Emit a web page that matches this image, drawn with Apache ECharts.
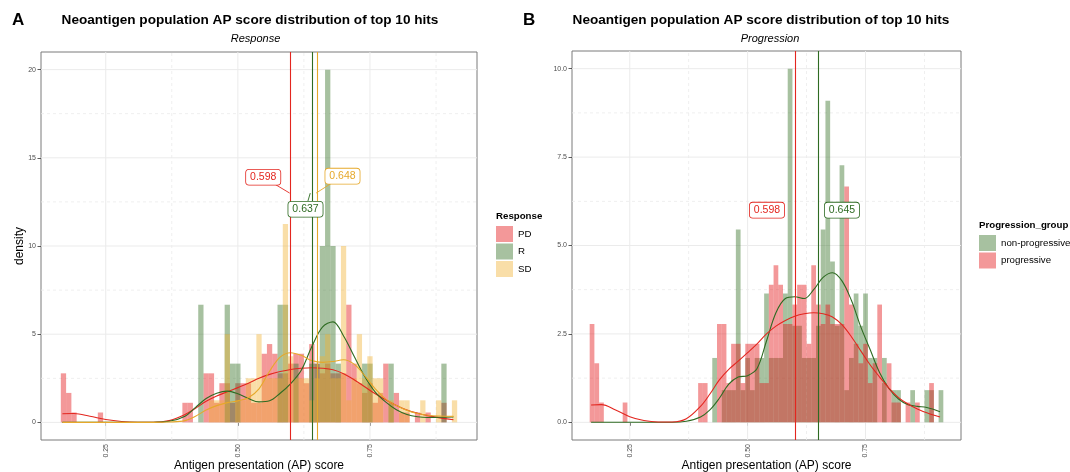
<!DOCTYPE html>
<html>
<head>
<meta charset="utf-8">
<script src="https://cdn.jsdelivr.net/npm/echarts@6/dist/echarts.min.js"></script>
<style>
html,body{margin:0;padding:0;background:#fff;}
#chart{width:1070px;height:472px;}
</style>
</head>
<body>
<div id="chart"></div>
<script>
// histogram bins: left edges, width 0.01
var binEdges = [
	0.165,0.175,0.185,0.195,0.205,0.215,0.225,0.235,0.245,0.255,
	0.265,0.275,0.285,0.295,0.305,0.315,0.325,0.335,0.345,0.355,
	0.365,0.375,0.385,0.395,0.405,0.415,0.425,0.435,0.445,0.455,
	0.465,0.475,0.485,0.495,0.505,0.515,0.525,0.535,0.545,0.555,
	0.565,0.575,0.585,0.595,0.605,0.615,0.625,0.635,0.645,0.655,
	0.665,0.675,0.685,0.695,0.705,0.715,0.725,0.735,0.745,0.755,
	0.765,0.775,0.785,0.795,0.805,0.815,0.825,0.835,0.845,0.855,
	0.865,0.875,0.885,0.895,0.905
];
var binWidth = 0.01;

// panel A: Response
var pdDensity = [
	2.78,1.67,0.56,0,0,0,0,0.56,0,0,
	0,0,0,0,0,0,0,0,0,0,
	0,0,0,1.11,1.11,0,0,2.78,2.78,1.11,
	2.22,2.22,1.11,2.22,2.22,2.22,1.11,1.11,3.89,4.44,
	3.89,2.78,2.78,3.33,3.89,3.89,2.22,4.44,3.33,2.78,
	3.33,2.78,2.78,2.78,6.67,3.33,2.22,1.67,2.22,1.11,
	1.67,3.33,1.11,1.67,0.56,0.56,0,0.56,0,0.56,
	0,0,1.11,0,0
];
var rDensity = [
	0,0,0,0,0,0,0,0,0,0,
	0,0,0,0,0,0,0,0,0,0,
	0,0,0,0,0,0,6.67,0,0,0,
	0,6.67,3.33,3.33,0,0,0,0,0,0,
	0,6.67,6.67,0,3.33,0,0,3.33,3.33,10,
	20,10,3.33,0,0,0,0,3.33,3.33,0,
	0,0,3.33,0,0,0,0,0,0,0,
	0,0,3.33,0,0
];
var sdDensity = [
	0,0,0,0,0,0,0,0,0,0,
	0,0,0,0,0,0,0,0,0,0,
	0,0,0,0,0,0,0,0,1.25,1.25,
	1.25,5,0,1.25,1.25,2.5,2.5,5,2.5,2.5,
	2.5,2.5,11.25,3.75,2.5,2.5,2.5,1.25,2.5,3.75,
	5,2.5,2.5,10,1.25,2.5,5,2.5,3.75,2.5,
	2.5,0,1.25,0,1.25,1.25,0,0,1.25,0,
	0,1.25,0,0,1.25
];

// panel B: Progression
var nonProgDensity = [
	0,0,0,0,0,0,0,0,0,0,
	0,0,0,0,0,0,0,0,0,0,
	0,0,0,0,0,0,1.82,0,0.91,0.91,
	0.91,5.45,0.91,1.82,0.91,1.82,1.82,3.64,1.82,1.82,
	1.82,3.64,10,2.73,2.73,1.82,1.82,1.82,2.73,5.45,
	9.09,4.55,2.73,7.27,0.91,1.82,3.64,2.73,3.64,1.82,
	1.82,0,1.82,0,0.91,0.91,0,0,0.91,0,
	0,0.91,0.91,0,0.91
];
var progDensity = [
	2.78,1.67,0.56,0,0,0,0,0.56,0,0,
	0,0,0,0,0,0,0,0,0,0,
	0,0,0,1.11,1.11,0,0,2.78,2.78,1.11,
	2.22,2.22,1.11,2.22,2.22,2.22,1.11,1.11,3.89,4.44,
	3.89,2.78,2.78,3.33,3.89,3.89,2.22,4.44,3.33,2.78,
	3.33,2.78,2.78,2.78,6.67,3.33,2.22,1.67,2.22,1.11,
	1.67,3.33,1.11,1.67,0.56,0.56,0,0.56,0,0.56,
	0,0,1.11,0,0
];

// density curves
var curveX = [0.168,0.19,0.22,0.25,0.28,0.31,0.34,0.37,0.40,0.42,0.44,0.46,0.48,0.50,0.52,0.54,0.56,0.58,
	0.60,0.62,0.64,0.66,0.68,0.70,0.72,0.74,0.76,0.78,0.80,0.82,0.84,0.86,0.88,0.908];
var pdCurve = [0.49,0.50,0.35,0.16,0.05,0.01,0.01,0.10,0.45,0.80,1.20,1.50,1.73,1.97,2.22,2.50,2.72,2.88,
	3.00,3.07,3.10,3.07,2.98,2.76,2.42,2.02,1.62,1.28,0.96,0.70,0.52,0.38,0.27,0.15];
var rCurve = [0,0,0,0,0,0,0.01,0.06,0.35,0.85,1.35,1.65,1.77,1.62,1.35,1.16,1.22,1.65,
	2.20,2.95,4.30,5.40,5.70,4.90,3.75,2.60,1.72,1.15,0.72,0.45,0.32,0.28,0.29,0.30];
var sdCurve = [0,0,0,0,0,0,0,0.02,0.10,0.35,0.70,0.95,1.12,1.22,1.40,1.90,2.90,3.70,
	3.95,3.80,3.50,3.40,3.45,3.55,3.30,2.65,1.90,1.32,0.95,0.68,0.50,0.40,0.36,0.34];
var nonProgCurve = [0,0,0,0,0,0,0,0.03,0.15,0.35,0.68,1.08,1.28,1.32,1.52,2.30,3.10,3.50,
	3.55,3.50,3.75,4.10,4.23,4.00,3.45,2.70,2.05,1.40,0.95,0.66,0.50,0.45,0.42,0.30];
var progCurve = [0.49,0.50,0.35,0.16,0.05,0.01,0.01,0.10,0.45,0.80,1.20,1.50,1.73,1.97,2.22,2.50,2.72,2.88,
	3.00,3.07,3.10,3.07,2.98,2.76,2.42,2.02,1.62,1.28,0.96,0.70,0.52,0.38,0.27,0.15];

// group means
var groupsA = ['PD', 'R', 'SD'];
var meansA = [0.598, 0.637, 0.648];
var groupsB = ['non-progressive', 'progressive'];
var meansB = [0.645, 0.598];

// axis ticks
var xTicks = [0.25, 0.5, 0.75];
var xMinor = [0.375, 0.625, 0.875];
var yTicksA = [0, 5, 10, 15, 20];
var yMinorA = [2.5, 7.5, 12.5, 17.5];
var yTicksB = [0, 2.5, 5, 7.5, 10];
var yMinorB = [1.25, 3.75, 6.25, 8.75];

var FONT = '"Liberation Sans", Arial, Helvetica, sans-serif';
var RED = '#e3261f', GREEN = '#2e6b22', GOLD = '#e6a82a';
var RED_FILL = 'rgba(228,26,28,0.45)', GREEN_FILL = 'rgba(60,118,45,0.45)', GOLD_FILL = 'rgba(240,176,48,0.42)';

var X_MIN = 0.1275, X_MAX = 0.9525;

var myChart = echarts.init(document.getElementById('chart'), null, {renderer: 'canvas'});

/**
 * 网格线 (major solid, minor dashed)
 */
function gridSeries(idx, yMin, yMax, yMajor, yMinor){
	var lines = [];
	xTicks.forEach(function(v){ lines.push([0, v, 0]); });
	xMinor.forEach(function(v){ lines.push([0, v, 1]); });
	yMajor.forEach(function(v){ lines.push([1, v, 0]); });
	yMinor.forEach(function(v){ lines.push([1, v, 1]); });
	return {
		type: 'custom',
		xAxisIndex: idx, yAxisIndex: idx,
		silent: true, z: 1,
		data: lines,
		renderItem: function(params, api){
			var d = lines[params.dataIndex];
			var p1, p2;
			if (d[0] === 0) {
				p1 = api.coord([d[1], yMin]); p2 = api.coord([d[1], yMax]);
			} else {
				p1 = api.coord([X_MIN, d[1]]); p2 = api.coord([X_MAX, d[1]]);
			}
			return {
				type: 'line',
				shape: {x1: p1[0], y1: p1[1], x2: p2[0], y2: p2[1]},
				style: {stroke: '#ebebeb', lineWidth: d[2] ? 0.8 : 1, lineDash: d[2] ? [3, 3] : null}
			};
		}
	};
}

/**
 * 直方图
 */
function histSeries(name, values, fill, idx){
	var data = [];
	values.forEach(function(v, i){
		if (v > 0) data.push([binEdges[i], binEdges[i] + binWidth, v]);
	});
	return {
		type: 'custom',
		name: name,
		xAxisIndex: idx, yAxisIndex: idx,
		silent: true, z: 2,
		itemStyle: {color: fill},
		encode: {x: [0, 1], y: 2},
		data: data,
		renderItem: function(params, api){
			var p0 = api.coord([api.value(0), api.value(2)]);
			var p1 = api.coord([api.value(1), 0]);
			return {
				type: 'rect',
				shape: {x: p0[0], y: p0[1], width: p1[0] - p0[0], height: p1[1] - p0[1]},
				style: {fill: fill}
			};
		}
	};
}

/**
 * 密度曲线 + 均值竖线
 */
function curveSeries(name, ys, color, mean, idx){
	return {
		type: 'line',
		name: name + ' density',
		xAxisIndex: idx, yAxisIndex: idx,
		data: curveX.map(function(x, i){ return [x, ys[i]]; }),
		smooth: 0.35,
		showSymbol: false,
		silent: true, z: 3,
		lineStyle: {color: color, width: 1.1},
		itemStyle: {color: color},
		markLine: {
			silent: true,
			symbol: ['none', 'none'],
			label: {show: false},
			lineStyle: {color: color, width: 1.1, type: 'solid'},
			data: [{xAxis: mean}]
		}
	};
}

/**
 * 均值标签 (ggrepel style)
 */
function labelSeries(items, idx){
	return {
		type: 'custom',
		xAxisIndex: idx, yAxisIndex: idx,
		silent: true, z: 10,
		data: items.map(function(d){ return [d.x, d.y]; }),
		renderItem: function(params, api){
			var d = items[params.dataIndex];
			var c = api.coord([d.x, d.y]);
			var children = [];
			if (d.leader) {
				var a = api.coord([d.ax, d.ay]);
				children.push({
					type: 'line',
					shape: {x1: a[0], y1: a[1], x2: c[0], y2: c[1]},
					style: {stroke: d.color, lineWidth: 0.9}
				});
			}
			children.push({
				type: 'text', x: c[0], y: c[1],
				style: {
					text: d.text, fill: d.color, fontSize: 10.5, fontFamily: FONT,
					align: 'center', verticalAlign: 'middle',
					backgroundColor: '#fff', borderColor: d.color, borderWidth: 0.8,
					borderRadius: 3, padding: [2, 4]
				}
			});
			return {type: 'group', children: children};
		}
	};
}

function xAxisOf(idx){
	return {
		type: 'value', gridIndex: idx, min: X_MIN, max: X_MAX,
		name: 'Antigen presentation (AP) score',
		nameLocation: 'middle', nameGap: 20, nameMoveOverlap: false,
		nameTextStyle: {fontSize: 12, color: '#000', fontFamily: FONT},
		axisLine: {show: false},
		axisTick: {show: true, customValues: xTicks, length: 3.5, lineStyle: {color: '#333', width: 0.8}},
		axisLabel: {
			show: true, customValues: xTicks, rotate: 90, margin: 4,
			fontSize: 7, color: '#4d4d4d', fontFamily: FONT,
			formatter: function(v){ return v.toFixed(2); }
		},
		splitLine: {show: false}
	};
}

function yAxisOf(idx, min, max, ticks, digits, name){
	return {
		type: 'value', gridIndex: idx, min: min, max: max,
		name: name, nameLocation: 'middle', nameGap: 15, nameMoveOverlap: false,
		nameTextStyle: {fontSize: 12, color: '#000', fontFamily: FONT},
		axisLine: {show: false},
		axisTick: {show: true, customValues: ticks, length: 3.5, lineStyle: {color: '#333', width: 0.8}},
		axisLabel: {
			show: true, customValues: ticks, margin: 5,
			fontSize: 7, color: '#4d4d4d', fontFamily: FONT,
			formatter: function(v){ return v.toFixed(digits); }
		},
		splitLine: {show: false}
	};
}

var labelsA = [
	{x: 0.548, y: 13.9, ax: meansA[0], ay: 13, text: meansA[0].toFixed(3), color: RED, leader: true},
	{x: 0.628, y: 12.08, ax: meansA[1], ay: 13, text: meansA[1].toFixed(3), color: GREEN, leader: true},
	{x: 0.698, y: 13.96, ax: meansA[2], ay: 13, text: meansA[2].toFixed(3), color: GOLD, leader: true}
];
var labelsB = [
	{x: 0.541, y: 6.0, ax: meansB[1], ay: 6, text: meansB[1].toFixed(3), color: RED, leader: false},
	{x: 0.700, y: 6.0, ax: meansB[0], ay: 6, text: meansB[0].toFixed(3), color: GREEN, leader: false}
];

var option = {
	animation: false,
	backgroundColor: '#fff',
	grid: [
		{left: 41, top: 52, width: 436, height: 388, show: true, borderColor: '#7a7a7a', borderWidth: 1, backgroundColor: 'transparent', containLabel: false, outerBoundsMode: 'none'},
		{left: 572, top: 51, width: 389, height: 389, show: true, borderColor: '#7a7a7a', borderWidth: 1, backgroundColor: 'transparent', containLabel: false, outerBoundsMode: 'none'}
	],
	xAxis: [xAxisOf(0), xAxisOf(1)],
	yAxis: [
		yAxisOf(0, -1, 21, yTicksA, 0, 'density'),
		yAxisOf(1, -0.5, 10.5, yTicksB, 1, '')
	],
	legend: [
		{
			data: groupsA, orient: 'vertical', left: 496, top: 226, padding: 0,
			itemWidth: 17, itemHeight: 16, itemGap: 1.5, icon: 'rect', selectedMode: false,
			textStyle: {fontSize: 9.7, color: '#000', fontFamily: FONT}
		},
		{
			data: groupsB, orient: 'vertical', left: 979, top: 235, padding: 0,
			itemWidth: 17, itemHeight: 16, itemGap: 1.5, icon: 'rect', selectedMode: false,
			textStyle: {fontSize: 9.7, color: '#000', fontFamily: FONT}
		}
	],
	graphic: [
		{type: 'text', x: 12, y: 20, style: {text: 'A', font: 'bold 17px ' + FONT, fill: '#000', verticalAlign: 'middle'}},
		{type: 'text', x: 523, y: 20, style: {text: 'B', font: 'bold 17px ' + FONT, fill: '#000', verticalAlign: 'middle'}},
		{type: 'text', x: 250, y: 20, style: {text: 'Neoantigen population AP score distribution of top 10 hits', font: 'bold 13.6px ' + FONT, fill: '#000', align: 'center', verticalAlign: 'middle'}},
		{type: 'text', x: 761, y: 20, style: {text: 'Neoantigen population AP score distribution of top 10 hits', font: 'bold 13.6px ' + FONT, fill: '#000', align: 'center', verticalAlign: 'middle'}},
		{type: 'text', x: 255.5, y: 39, style: {text: 'Response', font: 'italic 11px ' + FONT, fill: '#000', align: 'center', verticalAlign: 'middle'}},
		{type: 'text', x: 770, y: 39, style: {text: 'Progression', font: 'italic 11px ' + FONT, fill: '#000', align: 'center', verticalAlign: 'middle'}},
		{type: 'text', x: 496, y: 216, style: {text: 'Response', font: 'bold 9.7px ' + FONT, fill: '#000', verticalAlign: 'middle'}},
		{type: 'text', x: 979, y: 225, style: {text: 'Progression_group', font: 'bold 9.7px ' + FONT, fill: '#000', verticalAlign: 'middle'}}
	],
	series: [
		gridSeries(0, -1, 21, yTicksA, yMinorA),
		gridSeries(1, -0.5, 10.5, yTicksB, yMinorB),
		histSeries('PD', pdDensity, RED_FILL, 0),
		histSeries('R', rDensity, GREEN_FILL, 0),
		histSeries('SD', sdDensity, GOLD_FILL, 0),
		histSeries('non-progressive', nonProgDensity, GREEN_FILL, 1),
		histSeries('progressive', progDensity, RED_FILL, 1),
		curveSeries('PD', pdCurve, RED, meansA[0], 0),
		curveSeries('R', rCurve, GREEN, meansA[1], 0),
		curveSeries('SD', sdCurve, GOLD, meansA[2], 0),
		curveSeries('non-progressive', nonProgCurve, GREEN, meansB[0], 1),
		curveSeries('progressive', progCurve, RED, meansB[1], 1),
		labelSeries(labelsA, 0),
		labelSeries(labelsB, 1)
	]
};

myChart.setOption(option);
window.onresize = myChart.resize;
</script>
</body>
</html>
